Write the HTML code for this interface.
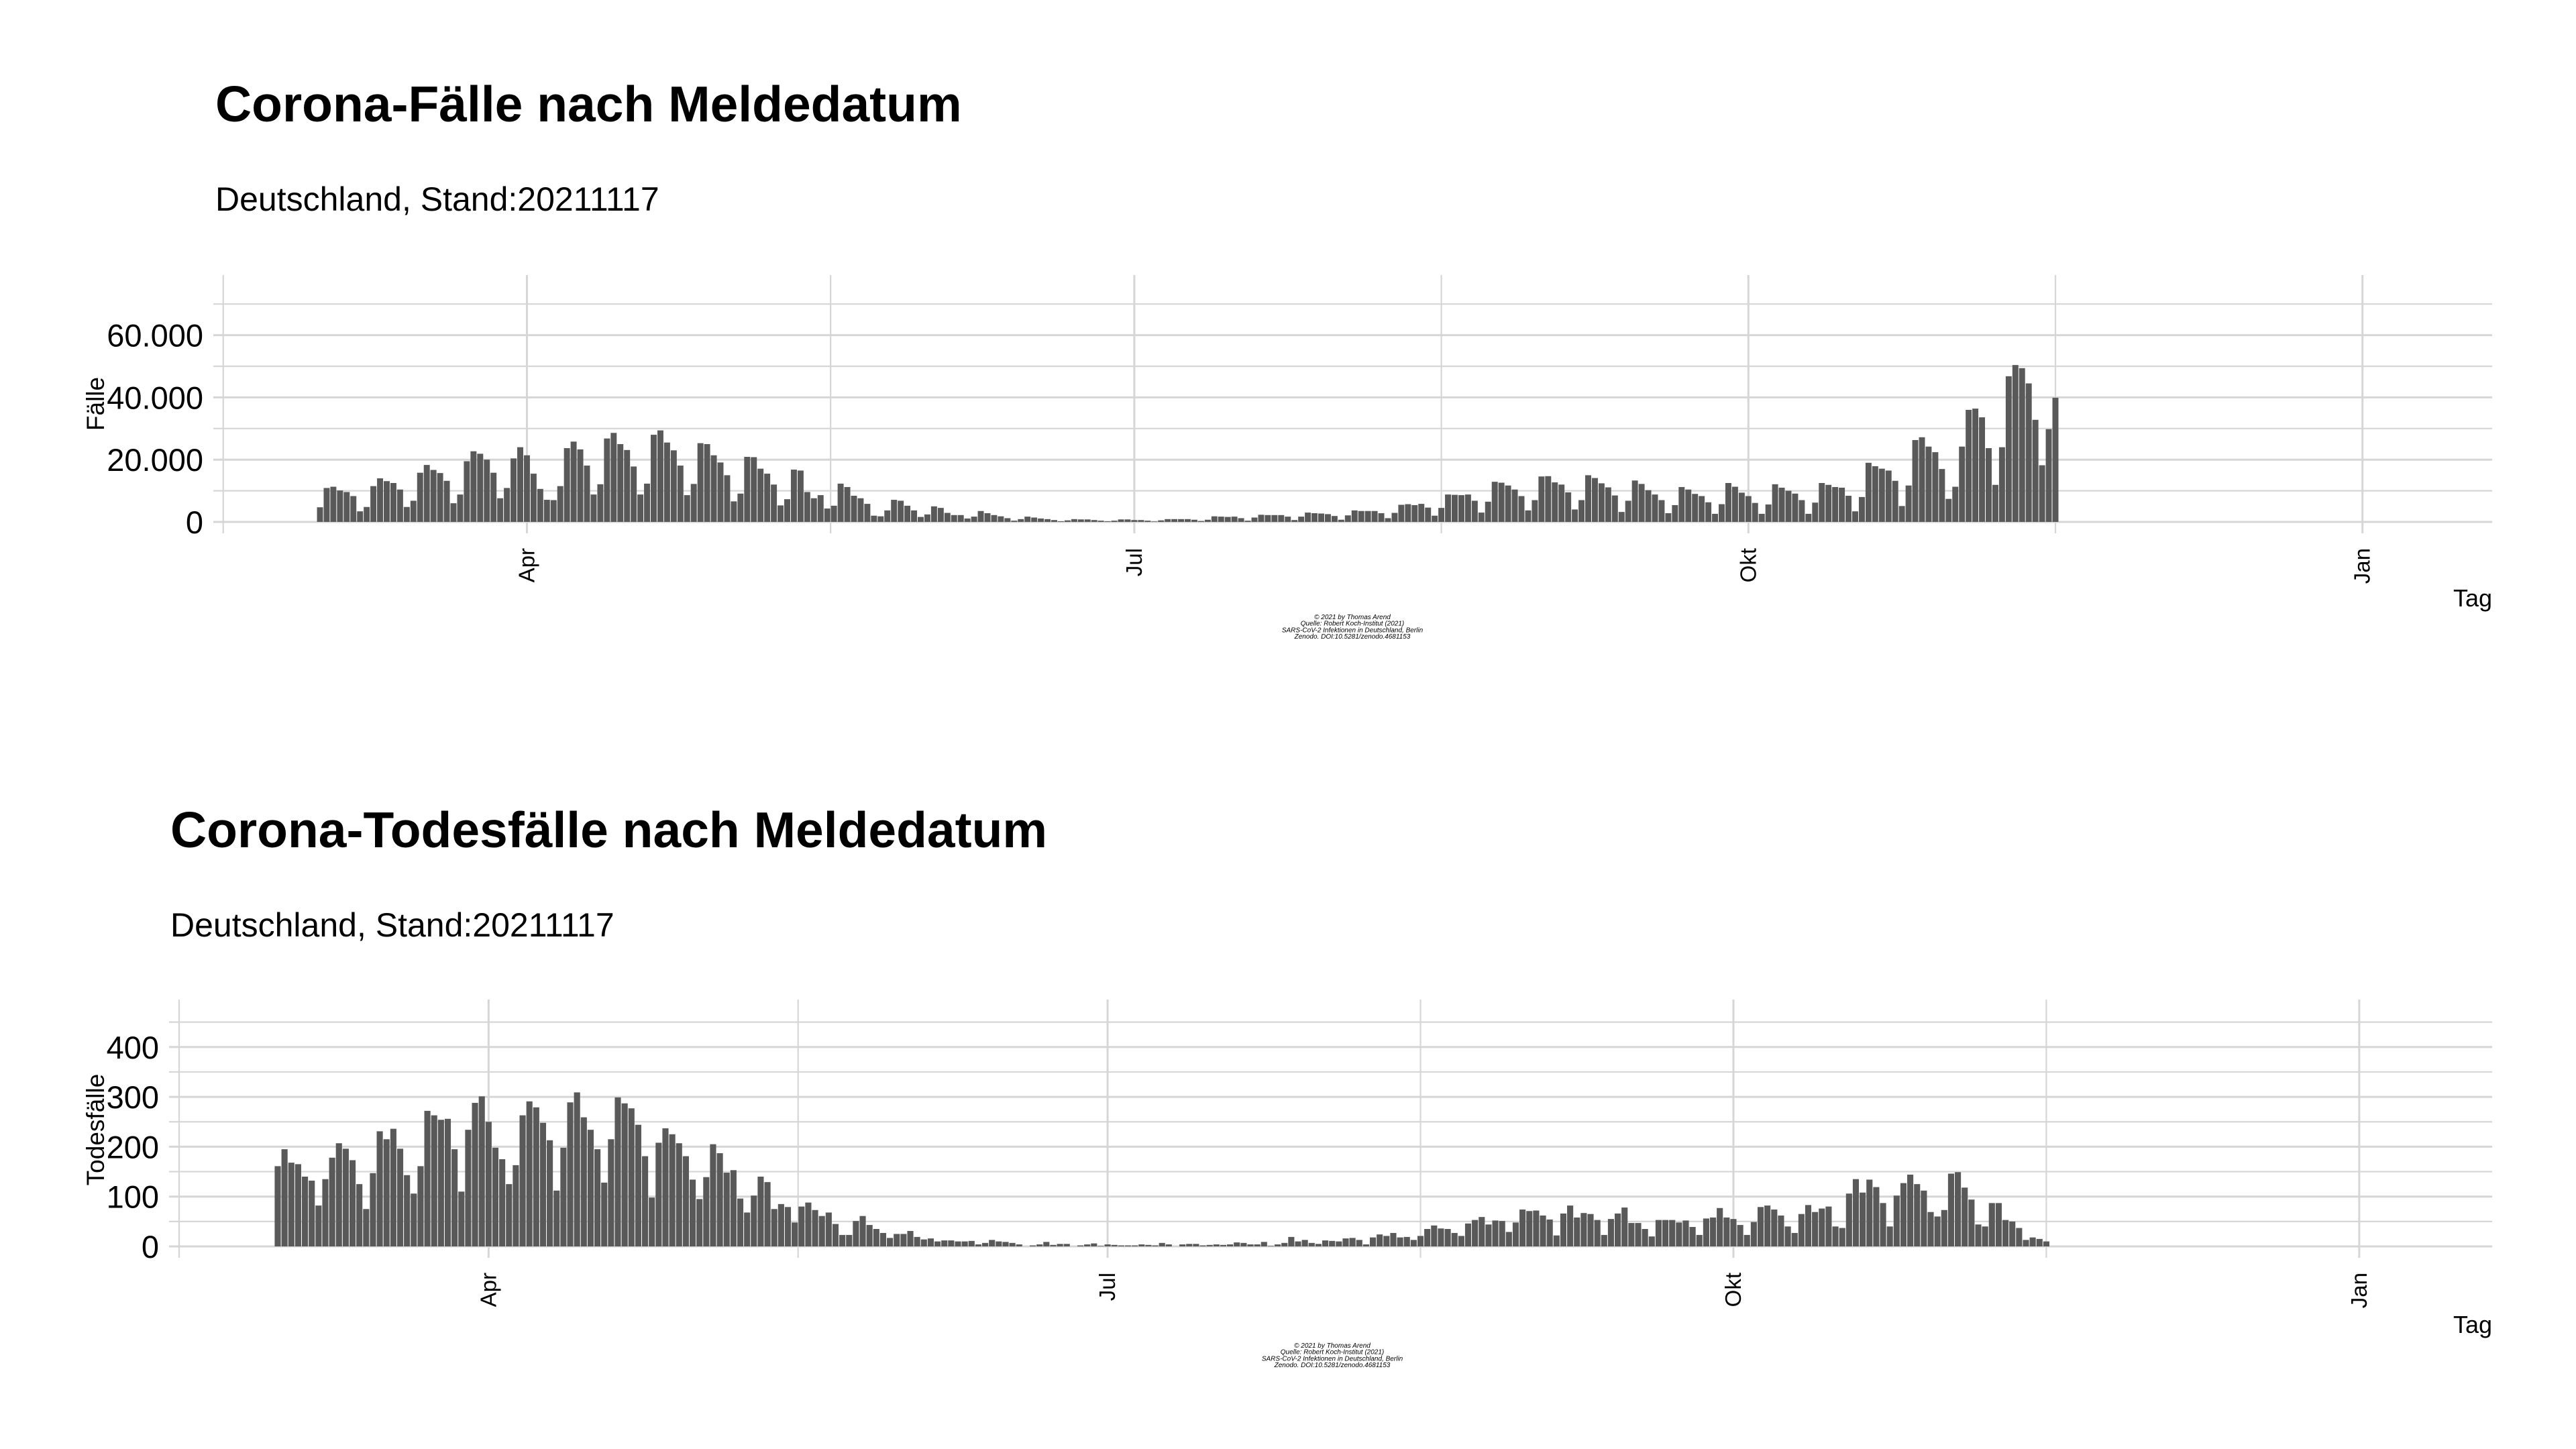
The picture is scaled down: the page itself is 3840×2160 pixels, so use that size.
<!DOCTYPE html>
<html><head><meta charset="utf-8"><style>
html,body{margin:0;padding:0;background:#fff;}
svg{display:block;font-family:"Liberation Sans",sans-serif;}
</style></head><body>
<svg id="chart" width="3840" height="2160" viewBox="0 0 3840 2160" xmlns="http://www.w3.org/2000/svg">
<rect x="0" y="0" width="3840" height="2160" fill="#fff"/>
<text x="321" y="181" font-size="75" font-weight="bold">Corona-Fälle nach Meldedatum</text>
<text x="321" y="314" font-size="50">Deutschland, Stand:20211117</text>
<text x="254" y="1263" font-size="75" font-weight="bold">Corona-Todesfälle nach Meldedatum</text>
<text x="254" y="1396" font-size="50">Deutschland, Stand:20211117</text>
<g id="top"></g>
<g id="bottom"></g>
</svg>
<script>
const startDate = [2021, 2, 1];
const monthTicks = ["Apr","Jul","Okt","Jan"];
const monthTickOffsets = [31,122,214,306];
const casesYTicks = [0,20000,40000,60000];
const casesYTickLabels = ["0","20.000","40.000","60.000"];
const deathsYTicks = [0,100,200,300,400];
const deathsYTickLabels = ["0","100","200","300","400"];
const casesValues = [4700,10900,11300,10100,9600,8300,3400,4800,11500,14000,13100,12500,10400,4800,6800,15800,18300,16700,15700,13200,6000,8800,19500,22700,21900,20000,15800,7600,10900,20400,24000,21400,15500,10600,7100,7000,11500,23700,25800,23300,18100,8800,12100,26800,28600,25000,23100,17800,8800,12300,28000,29400,25500,23000,18100,8600,12200,25300,25000,21400,19100,15000,6600,9100,20900,20800,17100,15500,12000,5300,7300,16800,16500,9600,7600,8600,4300,5200,12300,11200,8400,7600,5800,2000,1800,3700,7100,6800,5200,3700,1600,2400,5000,4500,2900,2200,2200,1100,1700,3500,2800,2200,1800,1200,400,900,1700,1400,1100,900,600,200,500,900,800,800,600,400,200,400,800,800,600,600,400,150,500,900,900,900,900,700,300,700,1800,1700,1600,1700,1200,400,1400,2300,2200,2200,2200,1700,600,1700,3000,2800,2700,2500,1900,700,2100,3700,3500,3500,3500,2800,1200,2900,5500,5700,5400,5800,4600,2000,4500,8800,8700,8600,8800,6800,3000,6500,12900,12600,11700,10400,8300,3700,7000,14600,14700,12700,12000,9500,4000,7000,15000,14100,12400,11100,8500,3200,6800,13300,12200,10200,8800,7000,2800,5400,11200,10400,9000,8300,6300,2600,5700,12500,11300,9400,8300,6100,2600,5600,12100,11000,10000,9100,7000,2600,6200,12500,11900,11200,11000,8400,3400,8000,19000,17900,17100,16500,13200,5100,11700,26300,27200,24200,22400,17000,7400,11300,24200,36000,36400,33600,23700,11900,24000,46800,50400,49400,44500,32800,18200,29800,39900];
const deathsValues = [161,195,168,165,140,132,82,135,178,207,196,173,125,75,147,231,215,236,196,143,106,161,272,263,254,256,195,110,234,288,301,250,198,175,125,163,263,291,279,248,213,112,198,289,309,259,234,195,128,215,299,287,277,244,181,98,208,237,225,207,181,134,95,139,205,187,148,153,96,68,102,140,129,75,85,79,48,80,88,73,61,68,45,23,23,51,61,43,35,27,17,25,25,31,19,14,16,10,12,12,10,10,11,4,7,13,10,9,7,4,0,2,4,9,3,5,5,0,2,4,6,1,4,3,2,2,2,4,3,2,7,4,0,4,5,5,2,3,4,3,4,8,7,4,4,9,1,4,7,19,10,13,7,5,12,11,10,16,17,13,4,18,24,21,27,18,19,13,21,35,42,36,35,27,21,46,53,59,44,52,51,29,48,74,71,72,62,54,22,66,82,58,67,65,53,23,55,66,78,47,47,35,20,53,53,53,48,52,39,23,56,58,77,58,55,43,23,49,79,82,74,62,40,27,65,83,69,76,80,40,37,106,135,108,134,119,87,40,102,127,144,125,112,69,60,73,146,149,118,94,44,40,87,87,53,50,37,13,18,15,10];

const NS = "http://www.w3.org/2000/svg";
function mk(parent, tag, attrs){ const e=document.createElementNS(NS,tag); for(const k in attrs) e.setAttribute(k,attrs[k]); parent.appendChild(e); return e; }

function drawPanel(g, cfg, values, yTicks, yTickLabels, prefix){
  const xScale = i => cfg.x0 + i*cfg.dx;
  const yScale = v => cfg.base - v*cfg.pxPer;
  for(let k=0;k<=cfg.nGrid;k++){
    const v=k*cfg.minorStep; const major=(k%2===0);
    const l=mk(g,'line',{x1:cfg.gridLeft,x2:cfg.right,y1:yScale(v),y2:yScale(v),stroke:'#d6d6d6','stroke-width':major?3:2.2});
    
    
  }
  const half=(monthTickOffsets[1]-monthTickOffsets[0])/2;
  const vx=[monthTickOffsets[0]-half];
  for(let m=0;m<monthTickOffsets.length;m++){ vx.push(monthTickOffsets[m]); if(m<monthTickOffsets.length-1) vx.push((monthTickOffsets[m]+monthTickOffsets[m+1])/2); }
  vx.forEach((o)=>{
    const major=monthTickOffsets.includes(o);
    const l=mk(g,'line',{x1:xScale(o),x2:xScale(o),y1:cfg.top,y2:cfg.vBottom,stroke:'#d6d6d6','stroke-width':major?3:2.2});
    
    
  });
  const bw=cfg.dx*0.9;
  values.forEach((v,i)=>{
    const r=mk(g,'rect',{x:xScale(i)-bw/2,y:yScale(v),width:bw,height:cfg.base-yScale(v),fill:'#595959'});
    
    
  });
  yTicks.forEach((v,i)=>{
    const t=mk(g,'text',{x:cfg.tickRight,y:yScale(v)+17,'font-size':47,'text-anchor':'end',fill:'#000'});
    t.textContent=yTickLabels[i];
    
    
  });
  monthTicks.forEach((lab,i)=>{
    const x=xScale(monthTickOffsets[i])+11, y=cfg.vBottom+22;
    const t=mk(g,'text',{x:x,y:y,'font-size':33,'text-anchor':'end',transform:`rotate(-90 ${x} ${y})`,fill:'#000'});
    t.textContent=lab;
    
    
  });
  const yt=mk(g,'text',{x:155,y:cfg.yTitleY,'font-size':37,'text-anchor':'middle',transform:`rotate(-90 155 ${cfg.yTitleY})`});
  yt.textContent=cfg.yTitle;
  
  
  const xt=mk(g,'text',{x:cfg.right,y:cfg.xTitleY,'font-size':36,'text-anchor':'end'});
  xt.textContent='Tag';
  
  
  const lines=['© 2021 by Thomas Arend','Quelle: Robert Koch-Institut (2021)','SARS-CoV-2 Infektionen in Deutschland, Berlin','Zenodo. DOI:10.5281/zenodo.4681153'];
  lines.forEach((s,i)=>{
    const c=mk(g,'text',{x:cfg.capX,y:cfg.capY+i*9.7,'font-size':10,'font-style':'italic','text-anchor':'middle'});
    c.textContent=s;
    
    
  });
}

drawPanel(document.getElementById('top'),
  {x0:477,dx:9.95,base:778,pxPer:46.4/10000,minorStep:10000,nGrid:7,gridLeft:318,right:3715,top:410,vBottom:795,tickRight:303,yTitle:'Fälle',yTitleY:602,xTitleY:904,capX:2016,capY:923},
  casesValues, casesYTicks, casesYTickLabels, 'cases');
drawPanel(document.getElementById('bottom'),
  {x0:414,dx:10.14,base:1858,pxPer:74.3/100,minorStep:50,nGrid:9,gridLeft:252,right:3715,top:1490,vBottom:1875,tickRight:237,yTitle:'Todesfälle',yTitleY:1684,xTitleY:1987,capX:1986,capY:2009},
  deathsValues, deathsYTicks, deathsYTickLabels, 'deaths');
</script>
</body></html>
